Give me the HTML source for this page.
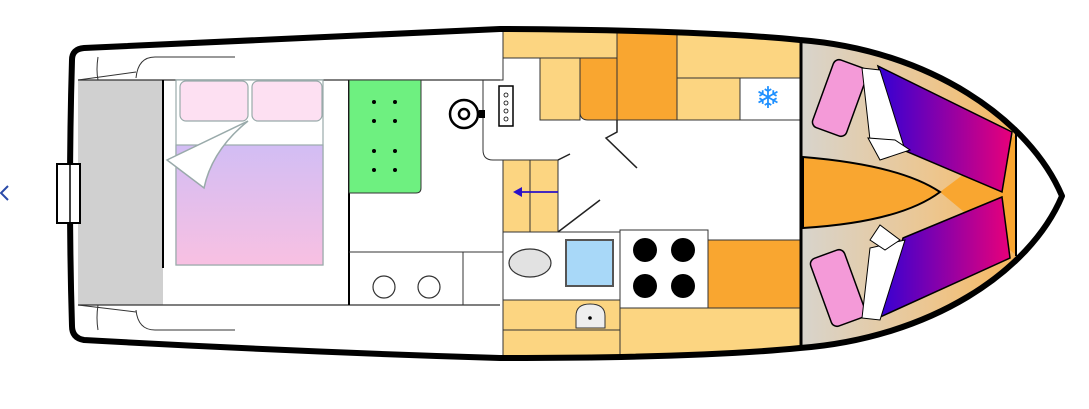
<!DOCTYPE html>
<html><head><meta charset="utf-8"><style>html,body{margin:0;padding:0;background:#fff;width:1089px;height:409px;overflow:hidden}</style></head>
<body>
<svg width="1089" height="409" viewBox="0 0 1089 409" xmlns="http://www.w3.org/2000/svg">
<defs>
<linearGradient id="duv" x1="0" y1="0" x2="0" y2="1"><stop offset="0" stop-color="#d2bdf4"/><stop offset="1" stop-color="#f8c0e2"/></linearGradient>
<linearGradient id="berth" x1="0" y1="0" x2="1" y2="0"><stop offset="0" stop-color="#3300d4"/><stop offset="1" stop-color="#e8007a"/></linearGradient>
<linearGradient id="floor" x1="0" y1="0" x2="1" y2="0"><stop offset="0" stop-color="#d8d4cc"/><stop offset="0.6" stop-color="#ecc690"/><stop offset="1" stop-color="#f6b860"/></linearGradient>
<clipPath id="hull"><path d="M84,48 Q300,38 500,29 Q700,30 800,40 C930,50 1030,120 1062,196 C1030,272 930,338 800,348 Q700,358 500,358 Q300,352 84,340 Q72,338 72,326 Q68,195 72,60 Q72,49 84,48 Z"/></clipPath>
</defs>
<g clip-path="url(#hull)">
<rect x="78" y="80" width="85" height="225" fill="#d0d0d0"/>
<rect x="802" y="30" width="214" height="330" fill="url(#floor)"/>
<path d="M940,192 L1016,135 L1016,255 Z" fill="#f9a630"/>
<path d="M803,157 Q900,165 940,192 Q900,222 803,228 Z" fill="#f9a630" stroke="#000" stroke-width="2"/>
<polygon points="878,66 1012,132 1002,192 903,150" fill="url(#berth)" stroke="#000" stroke-width="1.5"/>
<polygon points="903,238 1002,197 1010,258 878,318" fill="url(#berth)" stroke="#000" stroke-width="1.5"/>
<line x1="1016" y1="134" x2="1016" y2="256" stroke="#000" stroke-width="2"/>
<rect x="822" y="62" width="36" height="72" rx="6" fill="#f49ad8" stroke="#000" stroke-width="1.5" transform="rotate(20 840 98)"/>
<rect x="820" y="252" width="36" height="72" rx="6" fill="#f49ad8" stroke="#000" stroke-width="1.5" transform="rotate(-20 838 288)"/>
<polygon points="862,68 880,70 905,150 870,140" fill="#fff" stroke="#000" stroke-width="1"/>
<polygon points="868,138 880,160 910,150 895,140" fill="#fff" stroke="#000" stroke-width="1"/>
<polygon points="862,318 880,320 905,240 870,248" fill="#fff" stroke="#000" stroke-width="1"/>
<polygon points="870,240 880,225 900,240 885,250" fill="#fff" stroke="#000" stroke-width="1"/>
<rect x="503" y="28" width="114" height="30" fill="#fcd581" stroke="#333" stroke-width="1"/>
<rect x="617" y="28" width="60" height="92" fill="#f9a630" stroke="#333" stroke-width="1"/>
<rect x="677" y="34" width="123" height="44" fill="#fcd581" stroke="#333" stroke-width="1"/>
<rect x="540" y="58" width="40" height="62" fill="#fcd581" stroke="#333" stroke-width="1"/>
<path d="M580,58 H617 V120 H588 Q580,120 580,112 Z" fill="#f9a630" stroke="#333" stroke-width="1"/>
<rect x="677" y="78" width="63" height="42" fill="#fcd581" stroke="#333" stroke-width="1"/>
<rect x="740" y="78" width="60" height="42" fill="#fff" stroke="#333" stroke-width="1"/>
<text x="768" y="108" font-family="DejaVu Sans, sans-serif" font-size="30" fill="#1e90ff" text-anchor="middle">❄</text>
<rect x="503" y="160" width="27" height="72" fill="#fcd581" stroke="#333" stroke-width="1"/>
<rect x="530" y="160" width="28" height="72" fill="#fcd581" stroke="#333" stroke-width="1"/>
<line x1="558" y1="192" x2="518" y2="192" stroke="#2a10c8" stroke-width="1.8"/>
<polygon points="513,192 522,187 522,197" fill="#2a10c8"/>
<rect x="503" y="232" width="117" height="68" fill="#fff" stroke="#333" stroke-width="1"/>
<rect x="566" y="240" width="47" height="46" fill="#a8d8f8" stroke="#555" stroke-width="2"/>
<ellipse cx="530" cy="263" rx="21" ry="14" fill="#e2e2e2" stroke="#333" stroke-width="1.2"/>
<rect x="620" y="230" width="88" height="78" fill="#fff" stroke="#333" stroke-width="1"/>
<circle cx="645" cy="250" r="12"/><circle cx="683" cy="250" r="12"/><circle cx="645" cy="286" r="12"/><circle cx="683" cy="286" r="12"/>
<rect x="708" y="240" width="92" height="68" fill="#f9a630" stroke="#333" stroke-width="1"/>
<rect x="503" y="300" width="117" height="30" fill="#fcd581" stroke="#333" stroke-width="1"/>
<rect x="503" y="330" width="117" height="30" fill="#fcd581" stroke="#333" stroke-width="1"/>
<rect x="620" y="308" width="180" height="52" fill="#fcd581" stroke="#333" stroke-width="1"/>
<path d="M576,328 V316 Q576,304 590,304 Q605,304 605,316 V328 Z" fill="#eee" stroke="#333" stroke-width="1"/>
<circle cx="590" cy="318" r="1.8"/>
</g>
<path d="M78,80 H500 M78,305 H500" stroke="#333" stroke-width="1.2" fill="none"/>
<path d="M235,57 H155 Q138,57 136,78 M98,57 Q96,70 98,80 M78,80 L136,72" stroke="#333" stroke-width="1" fill="none"/>
<path d="M235,330 H155 Q138,330 136,310 M98,330 Q96,318 98,305 M78,305 L136,312" stroke="#333" stroke-width="1" fill="none"/>
<line x1="163" y1="80" x2="163" y2="268" stroke="#000" stroke-width="2"/>
<rect x="176" y="80" width="147" height="185" fill="#fff" stroke="#9aa" stroke-width="1.2"/>
<rect x="176" y="145" width="147" height="120" fill="url(#duv)" stroke="#9aa" stroke-width="1.2"/>
<rect x="180" y="81" width="68" height="40" rx="6" fill="#fde0f2" stroke="#9aa" stroke-width="1.2"/>
<rect x="252" y="81" width="70" height="40" rx="6" fill="#fde0f2" stroke="#9aa" stroke-width="1.2"/>
<path d="M248,121 L167,160 L204,188 Q212,150 248,121 Z" fill="#fff" stroke="#9aa" stroke-width="1.5"/>
<line x1="349" y1="80" x2="349" y2="305" stroke="#000" stroke-width="2"/>
<path d="M349,80 H421 V188 Q421,193 416,193 H349 Z" fill="#6ef080" stroke="#333" stroke-width="1"/>
<g fill="#000"><circle cx="374" cy="102" r="2"/><circle cx="395" cy="102" r="2"/><circle cx="374" cy="121" r="2"/><circle cx="395" cy="121" r="2"/><circle cx="374" cy="151" r="2"/><circle cx="395" cy="151" r="2"/><circle cx="374" cy="170" r="2"/><circle cx="395" cy="170" r="2"/></g>
<path d="M349,252 H503 M463,252 V305" stroke="#333" stroke-width="1" fill="none"/>
<circle cx="384" cy="287" r="11" fill="none" stroke="#333" stroke-width="1.2"/>
<circle cx="429" cy="287" r="11" fill="none" stroke="#333" stroke-width="1.2"/>
<path d="M540,58 H503 V80 H483 V150 Q483,160 493,160 H540" fill="none" stroke="#333" stroke-width="1"/>
<rect x="499" y="86" width="14" height="40" fill="#fff" stroke="#000" stroke-width="1.5"/>
<g fill="none" stroke="#000" stroke-width="0.8"><circle cx="506" cy="95" r="2"/><circle cx="506" cy="103" r="2"/><circle cx="506" cy="111" r="2"/><circle cx="506" cy="119" r="2"/></g>
<circle cx="464" cy="114" r="14" fill="#fff" stroke="#000" stroke-width="2.5"/>
<circle cx="464" cy="114" r="5" fill="none" stroke="#000" stroke-width="2.5"/>
<rect x="479" y="110" width="6" height="8"/>
<line x1="503" y1="160" x2="503" y2="358" stroke="#333" stroke-width="1"/>
<path d="M617,120 V132 L606,138 L637,168 M558,160 L570,154 M558,232 L600,200" stroke="#222" stroke-width="1.5" fill="none"/>
<line x1="801" y1="40" x2="801" y2="348" stroke="#000" stroke-width="3"/>
<path d="M84,48 Q300,38 500,29 Q700,30 800,40 C930,50 1030,120 1062,196 C1030,272 930,338 800,348 Q700,358 500,358 Q300,352 84,340 Q72,338 72,326 Q68,195 72,60 Q72,49 84,48 Z" fill="none" stroke="#000" stroke-width="6" stroke-linejoin="round"/>
<rect x="57" y="164" width="23" height="59" fill="#fff" stroke="#000" stroke-width="2"/>
<line x1="70" y1="164" x2="70" y2="223" stroke="#000" stroke-width="1.5"/>
<path d="M8,186 L1,193 L8,200" stroke="#2a4aa8" stroke-width="2" fill="none"/>
</svg>
</body></html>
